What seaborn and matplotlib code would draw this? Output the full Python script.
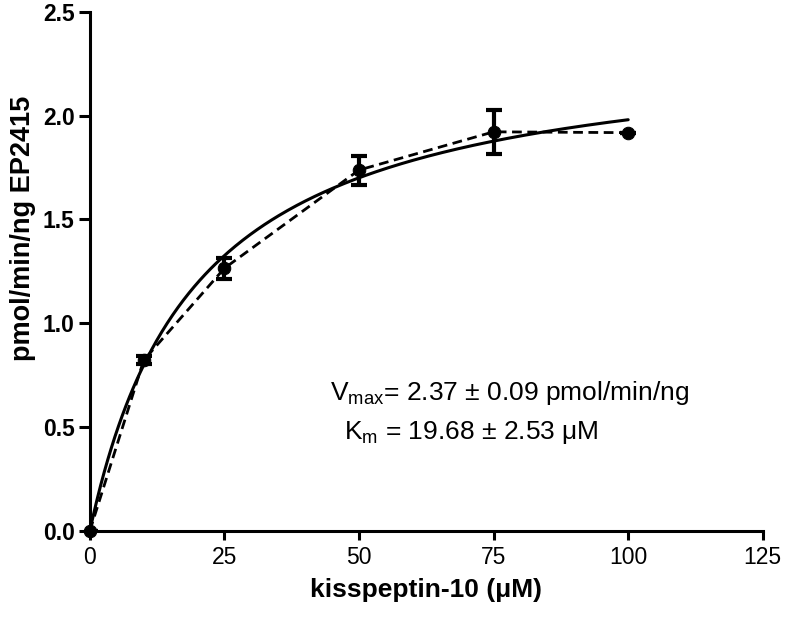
import numpy as np
import pandas as pd
import seaborn as sns
from matplotlib import pyplot as plt

# measured points (mean +/- SEM)
conc = [0, 10, 25, 50, 75, 100]
rate = [0.0, 0.822, 1.265, 1.738, 1.922, 1.918]
sem = [0.0, 0.02, 0.05, 0.07, 0.107, 0.0]

# Michaelis-Menten fit parameters, as printed on the chart
vmax = 2.37
km = 19.68

x_ticks = [0, 25, 50, 75, 100, 125]
y_ticks = [0.0, 0.5, 1.0, 1.5, 2.0, 2.5]

sns.set_style("ticks")
plt.rcParams['font.family'] = ['Liberation Sans', 'DejaVu Sans']
plt.rcParams['mathtext.fontset'] = 'custom'
plt.rcParams['mathtext.rm'] = 'Liberation Sans'
plt.rcParams['mathtext.it'] = 'Liberation Sans'
plt.rcParams['text.color'] = 'black'
plt.rcParams['axes.labelcolor'] = 'black'

df = pd.DataFrame({'conc': conc, 'rate': rate, 'sem': sem})
xfit = np.linspace(0, 100, 300)
fit = pd.DataFrame({'conc': xfit, 'rate': vmax * xfit / (km + xfit)})

fig = plt.figure(figsize=(7.88, 6.21), dpi=100)
ax = fig.add_axes([0.114, 0.145, 0.854, 0.836])

sns.lineplot(data=fit, x='conc', y='rate', color='black', lw=2.2, ax=ax)
sns.lineplot(data=df, x='conc', y='rate', color='black', lw=2,
             linestyle=(0, (3.5, 2)), marker='o', markersize=9,
             markeredgecolor='black', ax=ax, clip_on=False, zorder=4)
ax.errorbar(conc, rate, yerr=sem, fmt='none', ecolor='black', elinewidth=3,
            capsize=6, capthick=3, zorder=3)

ax.set_xlim(0, 125)
ax.set_ylim(0, 2.5)
ax.set_xticks(x_ticks)
ax.set_xticklabels([str(t) for t in x_ticks], fontsize=16.5)
ax.set_yticks(y_ticks)
ax.set_yticklabels([f"{t:.1f}" for t in y_ticks], fontweight='bold', fontsize=16.5)
for s in ['top', 'right']:
    ax.spines[s].set_visible(False)
for s in ['left', 'bottom']:
    ax.spines[s].set_linewidth(2.2)
    ax.spines[s].set_color('black')
ax.tick_params(width=2.2, length=6.5, direction='out', colors='black', pad=4)
ax.tick_params(axis='y', length=8, pad=3)

ax.set_xlabel("kisspeptin-10 (\u03bcM)", fontsize=19, fontweight='bold')
ax.set_ylabel("pmol/min/ng EP2415", fontsize=19.5, fontweight='bold')
ax.xaxis.set_label_coords(0.5, -0.09)
ax.yaxis.set_label_coords(-0.08, 0.582)

ax.text(44.6, 0.665, "V$_{\\mathrm{max}}$= 2.37 \u00b1 0.09 pmol/min/ng",
        fontsize=19, va='center', ha='left')
ax.text(47.3, 0.475, "K$_{\\mathrm{m}}$ = 19.68 \u00b1 2.53 \u03bcM",
        fontsize=19, va='center', ha='left')

fig.savefig("out.png", dpi=100)
